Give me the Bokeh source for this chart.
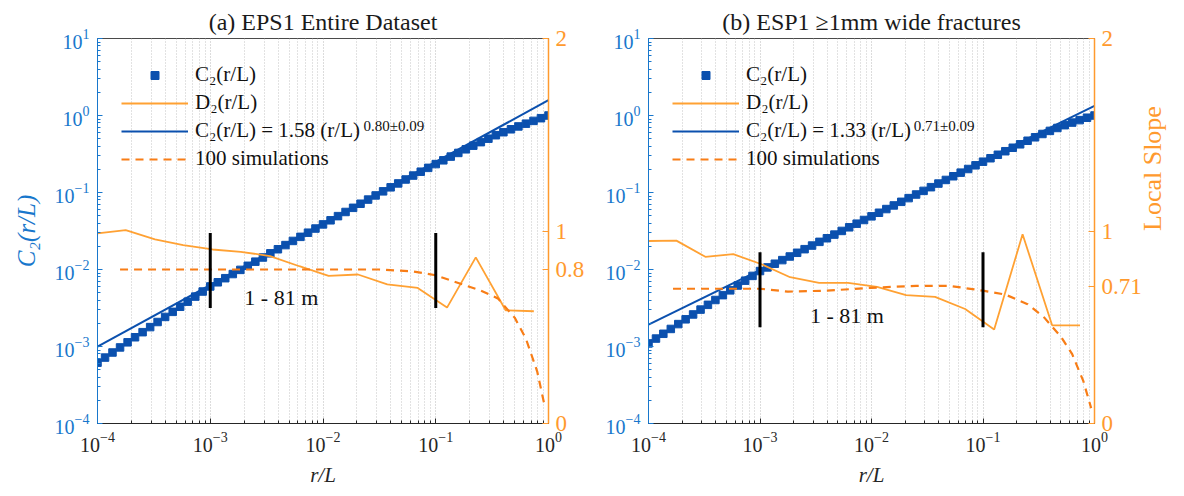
import math
from bokeh.plotting import figure
from bokeh.models import (Range1d, LinearAxis, LinearScale, FixedTicker, Legend, LegendItem, Label)
from bokeh.layouts import row
from bokeh.embed import file_html
from bokeh.resources import INLINE

# ---------------- data ----------------
# log10(r/L) of the C2 samples
log_r = [-4.0, -3.933, -3.867, -3.8, -3.733, -3.667, -3.6, -3.533, -3.467, -3.4,
         -3.333, -3.267, -3.2, -3.133, -3.067, -3.0, -2.933, -2.867, -2.8, -2.733,
         -2.667, -2.6, -2.533, -2.467, -2.4, -2.333, -2.267, -2.2, -2.133, -2.067,
         -2.0, -1.933, -1.867, -1.8, -1.733, -1.667, -1.6, -1.533, -1.467, -1.4,
         -1.333, -1.267, -1.2, -1.133, -1.067, -1.0, -0.933, -0.867, -0.8, -0.733,
         -0.667, -0.6, -0.533, -0.467, -0.4, -0.333, -0.267, -0.2, -0.133, -0.067, 0.0]
# log10 C2, panel (a)
c2_a_log = [-3.210, -3.144, -3.078, -3.012, -2.946, -2.880, -2.814, -2.748, -2.682, -2.616,
            -2.550, -2.484, -2.418, -2.352, -2.286, -2.220, -2.166, -2.113, -2.059, -2.005,
            -1.952, -1.898, -1.844, -1.790, -1.737, -1.683, -1.629, -1.576, -1.522, -1.468,
            -1.414, -1.361, -1.307, -1.253, -1.199, -1.146, -1.092, -1.038, -0.985, -0.933,
            -0.882, -0.831, -0.780, -0.730, -0.680, -0.631, -0.582, -0.534, -0.486, -0.439,
            -0.392, -0.346, -0.301, -0.256, -0.217, -0.179, -0.142, -0.106, -0.070, -0.035, 0.0]
# log10 C2, panel (b)
c2_b_log = [-2.960, -2.897, -2.835, -2.772, -2.709, -2.647, -2.584, -2.521, -2.459, -2.396,
            -2.333, -2.271, -2.208, -2.145, -2.083, -2.020, -1.973, -1.925, -1.878, -1.831,
            -1.783, -1.736, -1.689, -1.641, -1.594, -1.547, -1.499, -1.452, -1.405, -1.357,
            -1.310, -1.263, -1.215, -1.168, -1.121, -1.073, -1.026, -0.979, -0.931, -0.884,
            -0.837, -0.789, -0.742, -0.695, -0.647, -0.600, -0.555, -0.510, -0.464, -0.419,
            -0.374, -0.328, -0.283, -0.240, -0.200, -0.162, -0.126, -0.092, -0.060, -0.029, 0.0]

fit_a = (1.58, 0.80)
fit_b = (1.33, 0.71)
fit_r = [1e-4, 1.0]

# local slope D2
d2_log_r = [-4.0, -3.75, -3.49, -3.24, -2.98, -2.73, -2.47, -2.21, -1.95, -1.69,
            -1.43, -1.16, -0.90, -0.645, -0.38, -0.13]
d2_a = [0.988, 1.005, 0.957, 0.927, 0.904, 0.892, 0.870, 0.817, 0.767, 0.774,
        0.723, 0.704, 0.602, 0.863, 0.588, 0.583]
d2_b = [0.948, 0.950, 0.866, 0.880, 0.826, 0.760, 0.731, 0.731, 0.710, 0.667,
        0.658, 0.595, 0.488, 0.983, 0.510, 0.510]

# 100 simulations (mean local slope)
sim_a_log_r = [-3.8, -3.5, -3.0, -2.5, -2.0, -1.5, -1.2, -1.0, -0.8, -0.6, -0.45, -0.3, -0.2, -0.1, -0.03]
sim_a = [0.80, 0.80, 0.80, 0.80, 0.80, 0.80, 0.79, 0.77, 0.73, 0.69, 0.65, 0.55, 0.44, 0.27, 0.08]
sim_b_log_r = [-3.78, -3.3, -3.0, -2.75, -2.4, -2.0, -1.6, -1.3, -1.0, -0.8, -0.6, -0.45, -0.3, -0.2, -0.1, -0.03]
sim_b = [0.70, 0.70, 0.70, 0.685, 0.69, 0.705, 0.715, 0.715, 0.69, 0.67, 0.62, 0.55, 0.45, 0.36, 0.22, 0.08]

# scaling-range markers
bar_r = [1e-3, 1e-1]
bar_a = (0.60, 0.99)
bar_b = (0.50, 0.89)

slope_ticks_a = [0, 0.8, 1, 2]
slope_ticks_b = [0, 0.71, 1, 2]

x_major = [1e-4, 1e-3, 1e-2, 1e-1, 1]
y_major = [1e-4, 1e-3, 1e-2, 1e-1, 1, 10]

# ---------------- style ----------------
FONT = "Liberation Serif"
AX_BLUE = "#1877CC"
DATA_BLUE = "#0B50AE"
AX_ORANGE = "#FF9A2E"
D2_ORANGE = "#FFA133"
SIM_ORANGE = "#F87D16"
DARK = "#262626"


def minor(majors):
    out = []
    for t in majors[:-1]:
        out += [t * m for m in range(2, 10)]
    return out


def fit_label(fit):
    return "%.2f" % fit[0]


def panel(title, c2_log, fit, d2, sim_lr, sim, bar, slope_ticks, label_pos,
          sup_text, sup_pos, width, bl, br, left_label, right_label):
    p = figure(width=width, height=496, x_axis_type="log", y_axis_type="log",
               x_range=Range1d(1e-4, 1), y_range=Range1d(1e-4, 10),
               output_backend="svg", toolbar_location=None,
               min_border_left=bl, min_border_right=br,
               min_border_top=38, min_border_bottom=73)
    p.extra_y_ranges = {"slope": Range1d(0, 2)}
    p.extra_y_scales = {"slope": LinearScale()}
    p.outline_line_color = "#4a4a4a"
    p.background_fill_color = "white"
    p.border_fill_color = "white"

    p.title.text = title
    p.title.align = "center"
    p.title.text_font = FONT
    p.title.text_font_size = "24px"
    p.title.text_font_style = "normal"
    p.title.text_color = "#1a1a1a"
    p.title.standoff = 7

    # x axis
    xa = p.below[0]
    xa.ticker = FixedTicker(ticks=x_major, minor_ticks=minor(x_major))
    xa.axis_line_color = DARK
    xa.major_tick_line_color = DARK
    xa.minor_tick_line_color = DARK
    xa.major_tick_in = 5
    xa.major_tick_out = 0
    xa.minor_tick_in = 3
    xa.minor_tick_out = 0
    xa.major_label_text_font = FONT
    xa.major_label_text_font_size = "20px"
    xa.major_label_text_color = DARK
    xa.major_label_standoff = 8
    xa.axis_label = "r/L"
    xa.axis_label_text_font = FONT
    xa.axis_label_text_font_size = "21px"
    xa.axis_label_text_font_style = "italic"
    xa.axis_label_text_color = DARK
    xa.axis_label_standoff = 8

    # left axis
    ya = p.left[0]
    ya.ticker = FixedTicker(ticks=y_major, minor_ticks=minor(y_major))
    for k in ("axis_line_color", "major_tick_line_color", "minor_tick_line_color",
              "major_label_text_color"):
        setattr(ya, k, AX_BLUE)
    ya.major_tick_in = 5
    ya.major_tick_out = 0
    ya.minor_tick_in = 3
    ya.minor_tick_out = 0
    ya.major_label_text_font = FONT
    ya.major_label_text_font_size = "20px"
    ya.major_label_standoff = 8
    if left_label:
        ya.axis_label = left_label
        ya.axis_label_text_font = FONT
        ya.axis_label_text_font_size = "25px"
        ya.axis_label_text_font_style = "italic"
        ya.axis_label_text_color = AX_BLUE
        ya.axis_label_standoff = 12

    # right axis
    ra = LinearAxis(y_range_name="slope", ticker=FixedTicker(ticks=slope_ticks))
    ra.axis_line_color = AX_ORANGE
    ra.axis_line_width = 1.5
    ra.major_tick_line_color = AX_ORANGE
    ra.major_tick_in = 6
    ra.major_tick_out = 0
    ra.minor_tick_line_color = None
    ra.major_label_text_font = FONT
    ra.major_label_text_font_size = "23px"
    ra.major_label_text_color = AX_ORANGE
    ra.major_label_standoff = 7
    ra.major_label_overrides = {0: "0", 0.8: "0.8", 0.71: "0.71", 1: "1", 2: "2"}
    if right_label:
        ra.axis_label = right_label
        ra.axis_label_text_font = FONT
        ra.axis_label_text_font_size = "26px"
        ra.axis_label_text_font_style = "normal"
        ra.axis_label_text_color = AX_ORANGE
        ra.axis_label_standoff = 8
        try:
            ra.axis_label_orientation = math.pi / 2
        except Exception:
            pass
    p.add_layout(ra, "right")

    # grid
    p.ygrid.grid_line_color = None
    p.xgrid.grid_line_color = "#b8b8b8"
    p.xgrid.grid_line_dash = "1 2"
    p.xgrid.minor_grid_line_color = "#c4c4c4"
    p.xgrid.minor_grid_line_dash = "1 2"

    # data
    r = [10 ** v for v in log_r]
    c2 = [10 ** v for v in c2_log]
    sq = p.scatter(r, c2, marker="square", size=7.5, fill_color=DATA_BLUE,
                   line_color=DATA_BLUE)
    fit_y = [fit[0] * x ** fit[1] for x in fit_r]
    fl = p.line(fit_r, fit_y, line_color=DATA_BLUE, line_width=2)
    dl = p.line([10 ** v for v in d2_log_r], d2, y_range_name="slope",
                line_color=D2_ORANGE, line_width=1.8)
    sl = p.line([10 ** v for v in sim_lr], sim, y_range_name="slope",
                line_color=SIM_ORANGE, line_width=2.2, line_dash="8 6")
    p.segment(x0=bar_r, y0=[bar[0]] * 2, x1=bar_r, y1=[bar[1]] * 2,
              y_range_name="slope", line_color="black", line_width=3)

    p.add_layout(Label(x=label_pos[0], y=label_pos[1], y_range_name="slope",
                       text="1 - 81 m", text_font=FONT, text_font_size="22px",
                       text_align="center", text_baseline="middle",
                       text_color="#111111"))

    legend = Legend(items=[
        LegendItem(label="C₂(r/L)", renderers=[sq]),
        LegendItem(label="D₂(r/L)", renderers=[dl]),
        LegendItem(label="C₂(r/L) = " + fit_label(fit) + " (r/L)", renderers=[fl]),
        LegendItem(label="100 simulations", renderers=[sl]),
    ], location=(24, 252))
    legend.label_text_font = FONT
    legend.label_text_font_size = "21px"
    legend.label_text_color = "#111111"
    legend.glyph_width = 67
    legend.glyph_height = 20
    legend.label_height = 20
    legend.spacing = 3
    legend.padding = 0
    legend.margin = 0
    legend.label_standoff = 7
    legend.background_fill_alpha = 0
    legend.border_line_color = None
    p.add_layout(legend)

    p.add_layout(Label(x=sup_pos[0], y=sup_pos[1], y_range_name="slope",
                       text=sup_text, text_font=FONT, text_font_size="15px",
                       text_color="#111111", text_baseline="alphabetic"))
    return p


pa = panel("(a) EPS1 Entire Dataset", c2_a_log, fit_a, d2_a, sim_a_log_r, sim_a,
           bar_a, slope_ticks_a, (10 ** -2.37, 0.655), "0.80±0.09", (10 ** -1.64, 1.545),
           598, 97, 50, "C₂(r/L)", None)
pb = panel("(b) ESP1 ≥1mm wide fractures", c2_b_log, fit_b, d2_b, sim_b_log_r, sim_b,
           bar_b, slope_ticks_b, (10 ** -2.22, 0.56), "0.71±0.09", (10 ** -1.62, 1.545),
           586, 50, 88, None, "Local Slope")

layout = row(pa, pb)
open("out.html", "w").write(file_html(layout, INLINE))
